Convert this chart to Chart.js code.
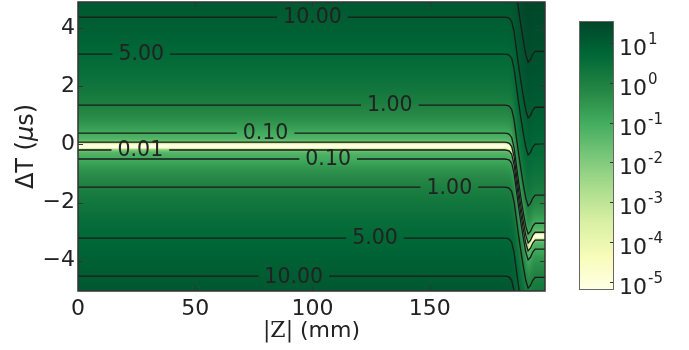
<!DOCTYPE html>
<html>
<head>
<meta charset="utf-8">
<script src="https://cdn.jsdelivr.net/npm/chart.js@4.4.1/dist/chart.umd.min.js"></script>
<style>
  body { margin: 0; background: #fff; }
  #wrap { position: relative; width: 689px; height: 350px; }
  #main { position: absolute; left: 0; top: 0; }
  #cbar { position: absolute; left: 570px; top: 0; }
</style>
</head>
<body>
<div id="wrap">
  <canvas id="main" width="689" height="350"></canvas>
  <canvas id="cbar" width="119" height="350"></canvas>
</div>
<script>
// |Z| (mm) positions where the valley centre was read
const zKnots = [0, 182, 183, 184, 185, 186, 187, 188, 189, 190, 191, 192, 193, 194, 195, 199.2];
// how far the valley centre has moved along ΔT (µs) at each knot
const centerShift = [0, 0, -0.01, -0.04, -0.15, -0.5, -1.1, -1.7, -2.25, -2.75, -3.2, -3.47, -3.38, -3.2, -3.1, -3.1];
// lowest value along the valley bottom at each knot
const valleyFloor = [6e-6, 6e-6, 6e-6, 2e-5, 5e-4, 3e-3, 4e-3, 4e-3, 4e-3, 4e-3, 3e-3, 1e-3, 2e-4, 3e-5, 6e-6, 6e-6];

// value across ΔT before the shift
const profileDT  = [-5.2, -4.53, -3.9, -3.22, -2.6, -2.0, -1.47, -1.1, -0.8, -0.5, -0.37, -0.27, -0.19, -0.16, -0.13, -0.11,
                    -0.06, -0.01, 0.02, 0.05, 0.08, 0.16, 0.27, 0.39, 0.7, 1.0, 1.355, 2.0, 2.5, 3.11, 3.7, 4.38, 5.3, 6.3, 7.5, 8.6];
const profileVal = [13.5, 10, 7.5, 5, 3.3, 1.9, 1, 0.55, 0.28, 0.1, 0.075, 0.045, 0.01, 0.003, 0.0001, 0.00001,
                    0.000006, 0.00001, 0.0001, 0.003, 0.01, 0.045, 0.075, 0.1, 0.29, 0.56, 1, 2.1, 3.2, 5, 7, 10, 14.5, 20, 28, 37];

// contour levels and their ΔT crossings before the shift
const contourLevels = [0.01, 0.1, 1, 5, 10, 20];
const contourUpper  = [0.08, 0.39, 1.355, 3.11, 4.38, 6.3];
const contourLower  = [-0.19, -0.5, -1.47, -3.22, -4.53, null];

const xTicks = [0, 50, 100, 150];
const yTicks = [-4, -2, 0, 2, 4];
const cbExponents = [-5, -4, -3, -2, -1, 0, 1];

// inline contour labels: which line, and at what |Z|
const labelSpots = [
  { level: 10, side: 'upper', z: 100 },
  { level: 5, side: 'upper', z: 27 },
  { level: 1, side: 'upper', z: 133 },
  { level: 0.1, side: 'upper', z: 80 },
  { level: 0.01, side: 'lower', z: 26.6 },
  { level: 0.1, side: 'lower', z: 106.7 },
  { level: 1, side: 'lower', z: 158.4 },
  { level: 5, side: 'lower', z: 126.7 },
  { level: 10, side: 'lower', z: 92 }
];

const cbMinExp = -5.2, cbMaxExp = 1.55;
const YLGN = [[255,255,229],[247,252,185],[217,240,163],[173,221,142],[120,198,121],
              [65,171,93],[35,132,67],[0,104,55],[0,69,41]];
const INK = '#222';
const SANS = 'DejaVu Sans';

function interp(xs, ys, x) {
  if (x <= xs[0]) return ys[0];
  const n = xs.length - 1;
  if (x >= xs[n]) return ys[n];
  let i = 1;
  while (xs[i] < x) i++;
  const t = (x - xs[i - 1]) / (xs[i] - xs[i - 1]);
  return ys[i - 1] + t * (ys[i] - ys[i - 1]);
}

// log10(value) -> rgb
function colorOf(lv) {
  let t = (lv - cbMinExp) / (cbMaxExp - cbMinExp);
  t = Math.min(1, Math.max(0, t)) * (YLGN.length - 1);
  const i = Math.min(YLGN.length - 2, Math.floor(t)), f = t - i;
  const a = YLGN[i], b = YLGN[i + 1];
  return [a[0] + f * (b[0] - a[0]), a[1] + f * (b[1] - a[1]), a[2] + f * (b[2] - a[2])];
}

const logProfile = profileVal.map(Math.log10);
const logFloor = valleyFloor.map(Math.log10);

// one line dataset per contour branch
const datasets = [];
contourLevels.forEach((lv, i) => {
  [['upper', contourUpper[i]], ['lower', contourLower[i]]].forEach(([side, off]) => {
    if (off === null) return;
    datasets.push({
      level: lv, side: side,
      data: zKnots.map((z, k) => ({ x: z, y: centerShift[k] + off })),
      showLine: true, borderColor: '#1a1a1a', borderWidth: 1.3,
      pointRadius: 0, tension: 0, fill: false, clip: 0
    });
  });
});

function labelBoxes(chart) {
  const ctx = chart.ctx, xs = chart.scales.x, ys = chart.scales.y;
  ctx.save();
  ctx.font = '20.5px "' + SANS + '"';
  const out = labelSpots.map(s => {
    const idx = chart.data.datasets.findIndex(d => d.level === s.level && d.side === s.side);
    const pts = chart.data.datasets[idx].data;
    const dt = interp(pts.map(p => p.x), pts.map(p => p.y), s.z);
    const text = s.level.toFixed(2);
    const w = ctx.measureText(text).width + 12;
    return { idx, text, cx: xs.getPixelForValue(s.z), cy: ys.getPixelForValue(dt), w, h: 18 };
  });
  ctx.restore();
  return out;
}

const heatmap = {
  id: 'heatmap',
  beforeDatasetsDraw(chart) {
    const { ctx, chartArea: a, scales: { x, y } } = chart;
    const left = Math.round(a.left), top = Math.round(a.top);
    const w = Math.round(a.right) - left, h = Math.round(a.bottom) - top;
    const off = document.createElement('canvas');
    off.width = w; off.height = h;
    const octx = off.getContext('2d');
    const img = octx.createImageData(w, h);
    for (let i = 0; i < w; i++) {
      const z = x.getValueForPixel(left + i + 0.5);
      const s = interp(zKnots, centerShift, z);
      const fl = interp(zKnots, logFloor, z);
      for (let j = 0; j < h; j++) {
        const dt = y.getValueForPixel(top + j + 0.5) - s;
        const c = colorOf(Math.max(interp(profileDT, logProfile, dt), fl));
        const k = (j * w + i) * 4;
        img.data[k] = c[0]; img.data[k + 1] = c[1]; img.data[k + 2] = c[2]; img.data[k + 3] = 255;
      }
    }
    octx.putImageData(img, 0, 0);
    ctx.drawImage(off, left, top);
    chart.$labels = labelBoxes(chart);
  },
  beforeDatasetDraw(chart, args) {
    const boxes = (chart.$labels || []).filter(b => b.idx === args.index);
    chart.$clipped = boxes.length > 0;
    if (!chart.$clipped) return;
    const ctx = chart.ctx, a = chart.chartArea;
    ctx.save();
    ctx.beginPath();
    ctx.rect(a.left, a.top, a.width, a.height);
    boxes.forEach(b => ctx.rect(b.cx - b.w / 2, b.cy - b.h / 2, b.w, b.h));
    ctx.clip('evenodd');
  },
  afterDatasetDraw(chart) {
    if (chart.$clipped) chart.ctx.restore();
    chart.$clipped = false;
  },
  afterDatasetsDraw(chart) {
    const ctx = chart.ctx;
    ctx.save();
    ctx.fillStyle = INK;
    ctx.font = '20.5px "' + SANS + '"';
    ctx.textAlign = 'center';
    ctx.textBaseline = 'middle';
    chart.$labels.forEach(b => ctx.fillText(b.text, b.cx, b.cy + 1));
    ctx.restore();
  },
  afterDraw(chart) {
    const { ctx, chartArea: a, scales: { x, y } } = chart;
    ctx.save();
    // inward ticks on all four sides
    ctx.strokeStyle = '#333';
    ctx.lineWidth = 1;
    ctx.beginPath();
    xTicks.forEach(v => {
      const px = Math.round(x.getPixelForValue(v)) + 0.5;
      ctx.moveTo(px, a.bottom); ctx.lineTo(px, a.bottom - 5);
      ctx.moveTo(px, a.top); ctx.lineTo(px, a.top + 5);
    });
    yTicks.forEach(v => {
      const py = Math.round(y.getPixelForValue(v)) + 0.5;
      ctx.moveTo(a.left, py); ctx.lineTo(a.left + 5, py);
      ctx.moveTo(a.right, py); ctx.lineTo(a.right - 5, py);
    });
    ctx.stroke();
    ctx.lineWidth = 1.5;
    ctx.strokeRect(a.left, a.top, a.width, a.height);

    // axis titles
    ctx.fillStyle = INK;
    ctx.textBaseline = 'alphabetic';
    const xParts = [['|Z|', '22px "DejaVu Serif"'], [' (mm)', '22px "' + SANS + '"']];
    let total = 0;
    xParts.forEach(p => { ctx.font = p[1]; total += ctx.measureText(p[0]).width; });
    let cx = (a.left + a.right) / 2 - total / 2;
    xParts.forEach(p => { ctx.font = p[1]; ctx.fillText(p[0], cx, 337); cx += ctx.measureText(p[0]).width; });

    ctx.translate(33, (a.top + a.bottom) / 2);
    ctx.rotate(-Math.PI / 2);
    const yParts = [['\u0394T (', '24px "' + SANS + '"'], ['\u03bc', 'italic 24px "' + SANS + '"'], ['s)', '24px "' + SANS + '"']];
    total = 0;
    yParts.forEach(p => { ctx.font = p[1]; total += ctx.measureText(p[0]).width; });
    cx = -total / 2;
    yParts.forEach(p => { ctx.font = p[1]; ctx.fillText(p[0], cx, 0); cx += ctx.measureText(p[0]).width; });
    ctx.restore();
  }
};

const tickFont = { family: SANS, size: 22 };

new Chart(document.getElementById('main'), {
  type: 'scatter',
  data: { datasets: datasets },
  options: {
    responsive: false,
    animation: false,
    events: [],
    layout: { padding: { left: 0, right: 144, top: 2, bottom: 0 } },
    plugins: { legend: { display: false }, tooltip: { enabled: false } },
    scales: {
      x: {
        type: 'linear', min: 0, max: 199.2,
        afterBuildTicks: s => { s.ticks = xTicks.map(v => ({ value: v })); },
        afterFit: s => { s.height = 59; s.paddingLeft = 0; s.paddingRight = 0; },
        grid: { display: false, drawTicks: false },
        border: { display: false },
        ticks: { font: tickFont, color: INK, padding: 5, maxRotation: 0, autoSkip: false }
      },
      y: {
        type: 'linear', min: -5.04, max: 4.9,
        afterBuildTicks: s => { s.ticks = yTicks.map(v => ({ value: v })); },
        afterFit: s => { s.width = 78; s.paddingTop = 0; s.paddingBottom = 0; },
        grid: { display: false, drawTicks: false },
        border: { display: false },
        ticks: {
          font: tickFont, color: INK, padding: 3, autoSkip: false,
          callback: v => String(v).replace('-', '\u2212')
        }
      }
    }
  },
  plugins: [heatmap]
});

// colour bar on its own log axis
const colorbar = {
  id: 'colorbar',
  beforeDatasetsDraw(chart) {
    const { ctx, chartArea: a, scales: { y } } = chart;
    for (let py = Math.floor(a.top); py < Math.ceil(a.bottom); py++) {
      const c = colorOf(Math.log10(y.getValueForPixel(py + 0.5)));
      ctx.fillStyle = 'rgb(' + c.map(Math.round).join(',') + ')';
      ctx.fillRect(a.left, py, a.width, 1);
    }
  },
  afterDraw(chart) {
    const { ctx, chartArea: a, scales: { y } } = chart;
    ctx.save();
    ctx.strokeStyle = '#333';
    ctx.lineWidth = 1;
    ctx.beginPath();
    cbExponents.forEach(e => {
      const py = Math.round(y.getPixelForValue(Math.pow(10, e))) + 0.5;
      ctx.moveTo(a.right, py); ctx.lineTo(a.right - 4, py);
    });
    ctx.stroke();
    ctx.strokeStyle = '#666';
    ctx.strokeRect(a.left + 0.5, a.top + 0.5, a.width - 1, a.height - 1);
    ctx.fillStyle = INK;
    ctx.textBaseline = 'alphabetic';
    cbExponents.forEach(e => {
      const py = y.getPixelForValue(Math.pow(10, e));
      ctx.font = '22px "' + SANS + '"';
      ctx.fillText('10', a.right + 5, py + 12);
      const w = ctx.measureText('10').width;
      ctx.font = '15px "' + SANS + '"';
      ctx.fillText(String(e), a.right + 6 + w, py + 1);
    });
    ctx.restore();
  }
};

new Chart(document.getElementById('cbar'), {
  type: 'scatter',
  data: { datasets: [] },
  options: {
    responsive: false,
    animation: false,
    events: [],
    layout: { padding: { left: 9, right: 0, top: 21, bottom: 60 } },
    plugins: { legend: { display: false }, tooltip: { enabled: false } },
    scales: {
      x: { display: false },
      y: {
        type: 'logarithmic', position: 'right',
        min: Math.pow(10, cbMinExp), max: Math.pow(10, cbMaxExp),
        afterBuildTicks: s => { s.ticks = cbExponents.map(e => ({ value: Math.pow(10, e) })); },
        afterFit: s => { s.width = 75; },
        grid: { display: false, drawTicks: false },
        border: { display: false },
        ticks: { display: false }
      }
    }
  },
  plugins: [colorbar]
});
</script>
</body>
</html>
